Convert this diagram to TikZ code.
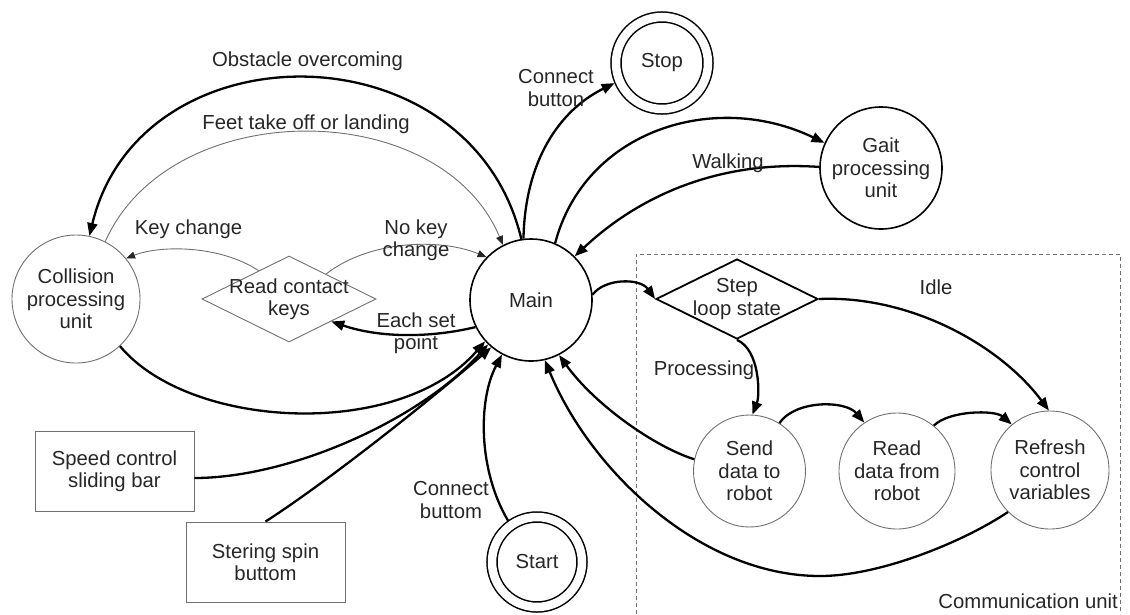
\documentclass[tikz,border=0pt]{standalone}
\usepackage{fontspec}
\setmainfont{Liberation Sans}
\usetikzlibrary{arrows.meta,shapes.geometric}
\definecolor{txt}{HTML}{262626}
\definecolor{thinline}{HTML}{707070}
\begin{document}
\begin{tikzpicture}[x=1pt,y=-1pt,
  every node/.style={font=\fontsize{20.3}{22.5}\selectfont, text=txt, align=center},
  statebold/.style={circle, draw=black, line width=1.6pt, inner sep=0pt},
  statethin/.style={circle, draw=thinline, line width=0.9pt, inner sep=0pt},
  final/.style={circle, draw=black, line width=1.5pt, double, double distance=8.5pt,
                inner sep=0pt, outer sep=5.5pt},
  choice/.style={diamond, draw=thinline, line width=0.9pt, inner xsep=-40pt, inner ysep=-20pt},
  choicebold/.style={diamond, draw=black, line width=1.8pt, inner xsep=-30pt, inner ysep=-20pt},
  inputbox/.style={rectangle, draw=thinline, line width=0.9pt,
                   minimum width=159pt, minimum height=80pt, inner sep=0pt},
  flow/.style={line width=2.3pt, -{Triangle[length=13pt,width=10pt]}},
  lightflow/.style={line width=0.9pt, draw=thinline,
                    -{Triangle[length=9pt,width=7pt,color=txt]}},
  lbl/.style={inner sep=0pt},
  frame/.style={draw=thinline, line width=0.8pt, dash pattern=on 4pt off 3pt}
]
\useasboundingbox (0,0) rectangle (1130,614);

% communication unit frame (open at the bottom edge)
\draw[frame] (636,614) -- (636,254) -- (1120,254) -- (1120,614);

% states
\node[statebold, minimum size=122pt] (main) at (531,300) {Main};
\node[statethin, minimum size=128pt] (coll) at (76,299) {Collision\\processing\\unit};
\node[final, minimum size=92pt] (stop) at (662,63) {Stop};
\node[final, minimum size=90pt] (start) at (537,562) {Start};
\node[statebold, minimum size=122pt] (gait) at (881,168) {Gait\\processing\\unit};
\node[choice, minimum width=174pt, minimum height=86pt] (rck) at (289,299) {Read contact\\keys};
\node[choicebold, minimum width=162pt, minimum height=80pt] (step) at (737,299) {Step\\loop state};
\node[statethin, minimum size=112pt] (send) at (749.5,471) {Send\\data to\\robot};
\node[statethin, minimum size=116pt] (read) at (897,471) {Read\\data from\\robot};
\node[statethin, minimum size=118pt] (refresh) at (1050,470) {Refresh\\control\\variables};
\node[inputbox] (speed) at (114.5,471) {Speed control\\sliding bar};
\node[inputbox] (steer) at (265.5,562) {Stering spin\\buttom};

% transitions
\draw[flow] (main.99) .. controls (470,25) and (140,25) .. (coll.78);
\draw[lightflow] (coll.63) .. controls (170,95) and (440,95) .. (main.117);
\draw[lightflow] (rck.137) .. controls (220,245) and (160,245) .. (coll.39);
\draw[lightflow] (rck.34) .. controls (370,240) and (440,238) .. (main.136);
\draw[flow] (main.206) .. controls (430,338) and (380,338) .. (rck.-28);
\draw[flow] (main.97) .. controls (525,160) and (560,110) .. (stop.203);
\draw[flow] (main.67) .. controls (585,130) and (715,90) .. (gait.156);
\draw[flow] (gait.179) .. controls (720,160) and (640,195) .. (main.45);
\draw[flow] (main.5) .. controls (605,278) and (640,278) .. (step.west);
\draw[flow] (step.east) .. controls (910,295) and (1000,345) .. (refresh.91);
\draw[flow] (step.south) .. controls (760,350) and (760,395) .. (send.87);
\draw[flow] (send.58) .. controls (795,400) and (845,400) .. (read.124);
\draw[flow] (read.51) .. controls (950,410) and (995,410) .. (refresh.130);
\draw[flow] (send.168) .. controls (655,447) and (595,405) .. (main.-63);
\draw[flow] (refresh.225) .. controls (963,542) and (880,576) .. (820,576)
            .. controls (700,576) and (590,470) .. (main.-77);
\draw[flow] (coll.-47) .. controls (190,430) and (400,440) .. (main.222);
\draw[flow] (speed.-5) .. controls (290,478) and (420,420) .. (main.226);
\draw[flow] (steer.north) .. controls (330,480) and (430,400) .. (main.230);
\draw[flow] (start.125) .. controls (478,470) and (478,400) .. (main.-118);

% transition labels
\node[lbl] (lobst) at (307.5,61) {Obstacle overcoming};
\node[lbl] (lfeet) at (306,124) {Feet take off or landing};
\node[lbl] (lkey) at (188.5,229) {Key change};
\node[lbl] (lnokey) at (416,240) {No key\\change};
\node[lbl] (leach) at (416,333) {Each set\\point};
\node[lbl] (lconn) at (556,88) {Connect\\button};
\node[lbl] (lwalk) at (728,163) {Walking};
\node[lbl] (lidle) at (936,287) {Idle};
\node[lbl] (lproc) at (704,370) {Processing};
\node[lbl] (lconnb) at (451,500) {Connect\\buttom};
\node[lbl, anchor=east] (lcomm) at (1118,601) {Communication unit};
\end{tikzpicture}
\end{document}
